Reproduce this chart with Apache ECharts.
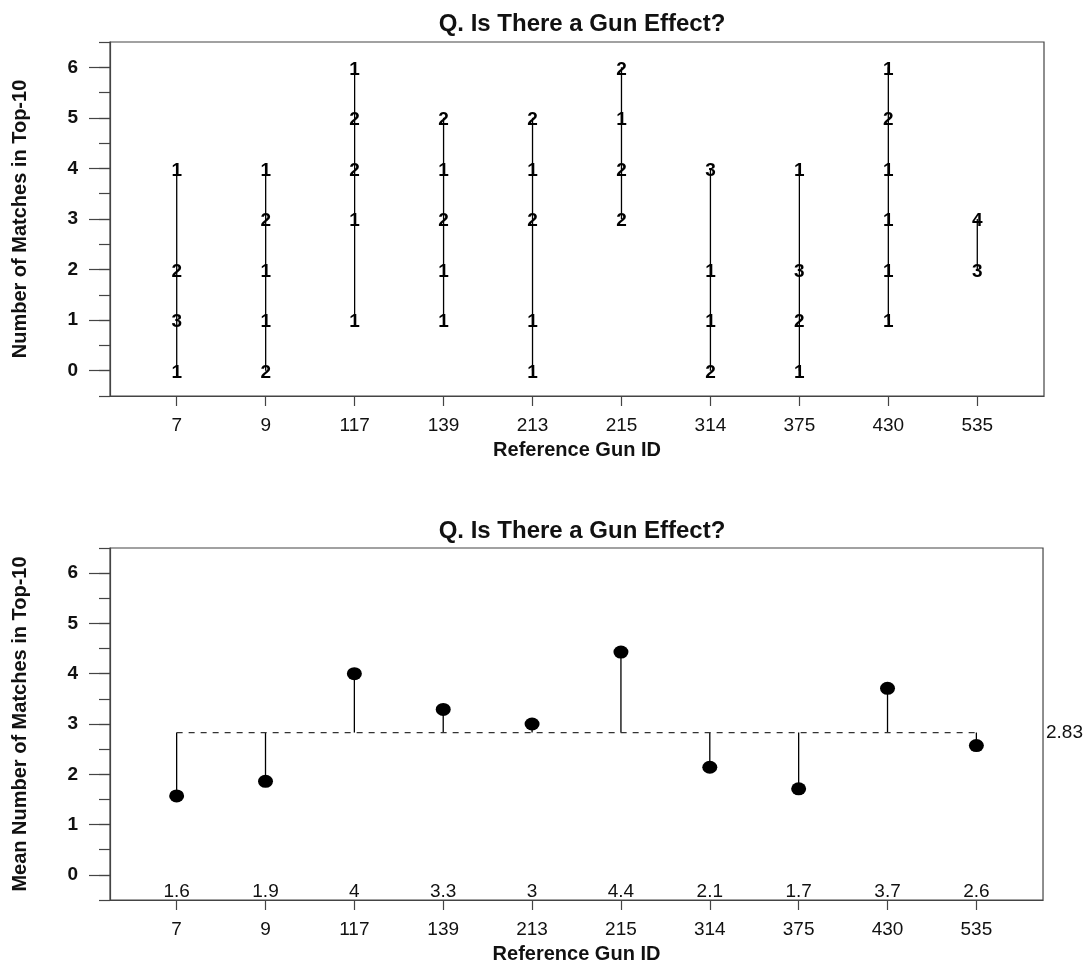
<!DOCTYPE html>
<html>
<head>
<meta charset="utf-8">
<title>Q. Is There a Gun Effect?</title>
<script src="https://cdn.jsdelivr.net/npm/echarts@6/dist/echarts.min.js"></script>
<style>
  html, body { margin: 0; padding: 0; background: #ffffff; }
  #chart { width: 1086px; height: 965px; }
</style>
</head>
<body>
<div id="chart"></div>
<script>
// reference guns along the x axis
var guns = ["7", "9", "117", "139", "213", "215", "314", "375", "430", "535"];
// top panel: number of matches (levels) and how many times each level occurred
var matchLevels = [
  [4, 2, 1, 0],
  [4, 3, 2, 1, 0],
  [6, 5, 4, 3, 1],
  [5, 4, 3, 2, 1],
  [5, 4, 3, 1, 0],
  [6, 5, 4, 3],
  [4, 2, 1, 0],
  [4, 2, 1, 0],
  [6, 5, 4, 3, 2, 1],
  [3, 2]
];
var matchCounts = [
  [1, 2, 3, 1],
  [1, 2, 1, 1, 2],
  [1, 2, 2, 1, 1],
  [2, 1, 2, 1, 1],
  [2, 1, 2, 1, 1],
  [2, 1, 2, 2],
  [3, 1, 1, 2],
  [1, 3, 2, 1],
  [1, 2, 1, 1, 1, 1],
  [4, 3]
];
// bottom panel: mean number of matches per gun
var meanValues = [1.57, 1.86, 4.0, 3.29, 3.0, 4.43, 2.14, 1.71, 3.71, 2.57];
var meanLabels = ["1.6", "1.9", "4", "3.3", "3", "4.4", "2.1", "1.7", "3.7", "2.6"];
var grandMean = 2.83;
var yTicks = [0, 1, 2, 3, 4, 5, 6];

var FONT = "'Liberation Sans', Arial, sans-serif";
var gunIdx = guns.map(function (g, i) { return i; });

var chart = echarts.init(document.getElementById("chart"));

// vertical segment from value(1) to value(2) at x = value(0)
function stem(params, api) {
  var a = api.coord([api.value(0), api.value(1)]);
  var b = api.coord([api.value(0), api.value(2)]);
  return {
    type: "line",
    shape: { x1: a[0], y1: a[1], x2: b[0], y2: b[1] },
    style: { stroke: "#000", lineWidth: 1.3 }
  };
}

var rangeData = guns.map(function (g, i) {
  return [i, Math.min.apply(null, matchLevels[i]), Math.max.apply(null, matchLevels[i])];
});
var countData = [];
guns.forEach(function (g, i) {
  matchLevels[i].forEach(function (lv, j) {
    countData.push([i, lv, matchCounts[i][j]]);
  });
});
var meanStemData = meanValues.map(function (v, i) { return [i, grandMean, v]; });
var meanPoints = meanValues.map(function (v, i) { return [i, v]; });

function gunAxis(grid) {
  return {
    gridIndex: grid,
    type: "value",
    min: -0.75,
    max: 9.75,
    position: "bottom",
    splitLine: { show: false },
    axisLine: { show: true, onZero: false, lineStyle: { color: "#444", width: 1.2 } },
    axisTick: { show: true, customValues: gunIdx, length: 10, lineStyle: { color: "#444", width: 1.2 } },
    axisLabel: {
      customValues: gunIdx,
      formatter: function (v) { return guns[Math.round(v)]; },
      fontSize: 19, color: "#111", margin: 20, fontFamily: FONT
    },
    name: "Reference Gun ID",
    nameLocation: "middle",
    nameGap: 44,
    nameTextStyle: { fontSize: 20, fontWeight: "bold", color: "#111", fontFamily: FONT }
  };
}

function countAxis(grid, title) {
  return {
    gridIndex: grid,
    type: "value",
    min: -0.5,
    max: 6.5,
    position: "left",
    splitLine: { show: false },
    axisLine: { show: true, onZero: false, lineStyle: { color: "#444", width: 1.2 } },
    axisTick: { show: true, customValues: yTicks, length: 21, lineStyle: { color: "#444", width: 1.2 } },
    axisLabel: {
      customValues: yTicks,
      fontSize: 19, fontWeight: "bold", color: "#111", margin: 32, fontFamily: FONT
    },
    name: title,
    nameLocation: "middle",
    nameGap: 80,
    nameTextStyle: { fontSize: 20, fontWeight: "bold", color: "#111", fontFamily: FONT }
  };
}

function minorAxis(grid) {
  return {
    gridIndex: grid,
    type: "value",
    min: -0.5,
    max: 6.5,
    interval: 0.5,
    position: "left",
    splitLine: { show: false },
    axisLine: { show: false, onZero: false },
    axisTick: { show: true, length: 11, lineStyle: { color: "#444", width: 1.2 } },
    axisLabel: { show: false }
  };
}

var titleStyle = { fontSize: 24, fontWeight: "bold", color: "#111", fontFamily: FONT, lineHeight: 24 };

var option = {
  animation: false,
  backgroundColor: "#ffffff",
  textStyle: { fontFamily: FONT, color: "#111" },
  title: [
    { text: "Q. Is There a Gun Effect?", left: 577, top: 7, textAlign: "center", textStyle: titleStyle },
    { text: "Q. Is There a Gun Effect?", left: 577, top: 514, textAlign: "center", textStyle: titleStyle }
  ],
  grid: [
    { left: 110, right: 42, top: 42, height: 354, show: true, borderColor: "#444", borderWidth: 1.2, backgroundColor: "transparent" },
    { left: 110, right: 42, top: 548, height: 354, show: true, borderColor: "#444", borderWidth: 1.2, backgroundColor: "transparent" }
  ],
  xAxis: [
    gunAxis(0),
    gunAxis(1),
    {
      // mean values written along the bottom inside the lower box
      gridIndex: 1,
      type: "value",
      min: -0.75,
      max: 9.75,
      position: "bottom",
      splitLine: { show: false },
      axisLine: { show: false, onZero: false },
      axisTick: { show: false },
      axisLabel: {
        inside: true,
        customValues: gunIdx,
        formatter: function (v) { return meanLabels[Math.round(v)]; },
        fontSize: 19, color: "#111", margin: -1, fontFamily: FONT
      }
    }
  ],
  yAxis: [
    countAxis(0, "Number of Matches in Top-10"),
    minorAxis(0),
    countAxis(1, "Mean Number of Matches in Top-10"),
    minorAxis(1),
    {
      gridIndex: 1,
      type: "value",
      min: -0.5,
      max: 6.5,
      position: "right",
      splitLine: { show: false },
      axisLine: { show: false, onZero: false },
      axisTick: { show: false },
      axisLabel: {
        customValues: [grandMean],
        formatter: function (v) { return v.toFixed(2); },
        fontSize: 19, color: "#111", margin: 3, fontFamily: FONT
      }
    }
  ],
  series: [
    {
      type: "custom",
      xAxisIndex: 0,
      yAxisIndex: 0,
      renderItem: stem,
      encode: { x: 0, y: [1, 2] },
      data: rangeData,
      silent: true
    },
    {
      type: "scatter",
      xAxisIndex: 0,
      yAxisIndex: 0,
      symbolSize: 0,
      itemStyle: { opacity: 1 },
      data: countData,
      label: {
        show: true,
        position: "inside",
        offset: [0, 2],
        formatter: function (p) { return String(p.value[2]); },
        fontSize: 19,
        fontWeight: "bold",
        color: "#000",
        fontFamily: FONT
      },
      silent: true
    },
    {
      type: "line",
      xAxisIndex: 1,
      yAxisIndex: 2,
      data: [[0, grandMean], [9, grandMean]],
      symbol: "none",
      lineStyle: { color: "#333", width: 1.2, type: [6, 6] },
      silent: true
    },
    {
      type: "custom",
      xAxisIndex: 1,
      yAxisIndex: 2,
      renderItem: stem,
      encode: { x: 0, y: [1, 2] },
      data: meanStemData,
      silent: true
    },
    {
      type: "scatter",
      xAxisIndex: 1,
      yAxisIndex: 2,
      symbol: "circle",
      symbolSize: [15, 13],
      itemStyle: { color: "#000", opacity: 1 },
      data: meanPoints,
      silent: true
    }
  ]
};

chart.setOption(option);
</script>
</body>
</html>
